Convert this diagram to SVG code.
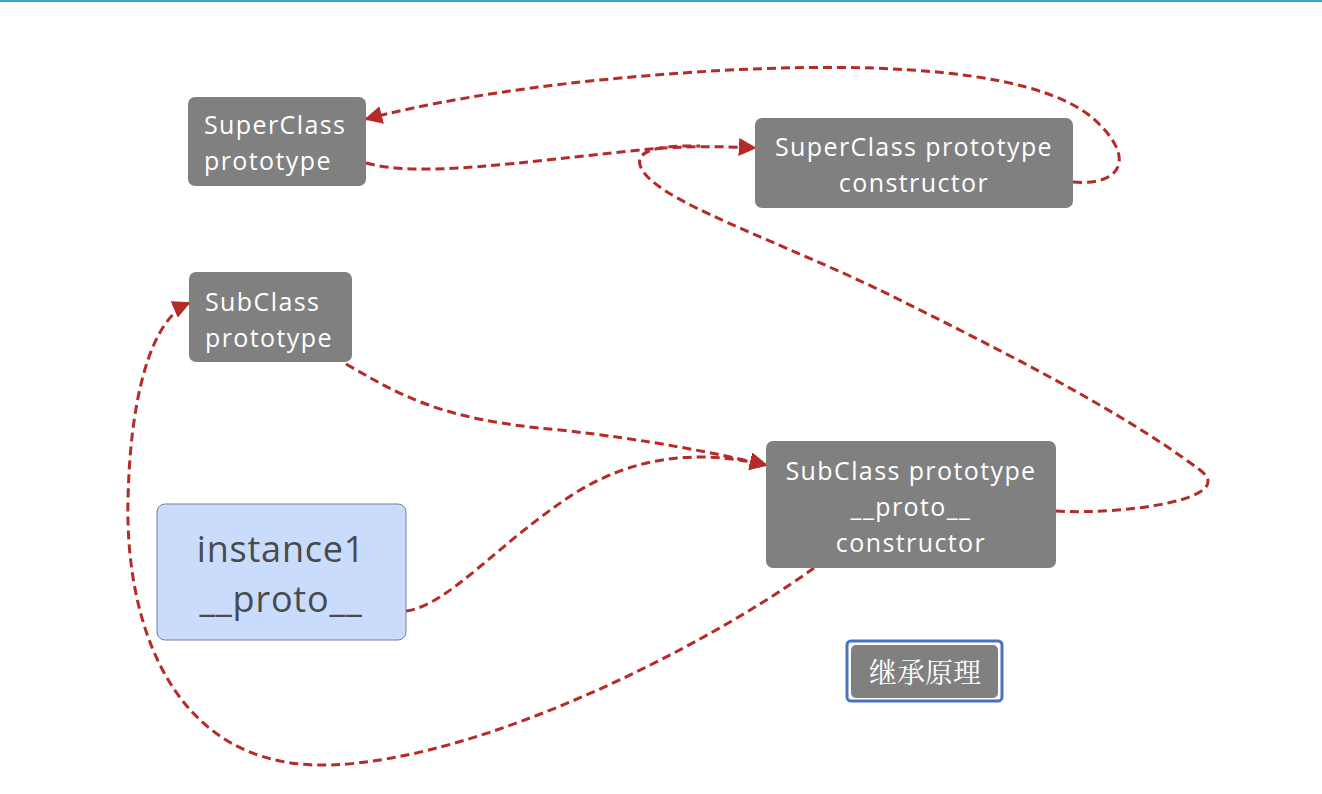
<svg xmlns="http://www.w3.org/2000/svg" width="1322" height="794" viewBox="0 0 1322 794">
<defs>
<style>
.box{fill:#808080;}
.t{font-family:"Open Sans","Noto Sans",sans-serif;font-size:25px;letter-spacing:1.4px;fill:#ffffff;}
.c{text-anchor:middle;}
.link{fill:none;stroke:#b52b27;stroke-width:3;stroke-dasharray:9 5;}
</style>
<marker id="arr" viewBox="0 0 10 10" refX="9" refY="5" markerWidth="6" markerHeight="6" markerUnits="strokeWidth" orient="auto">
<path d="M0,0 L10,5 L0,10 z" fill="#b52b27"/>
</marker>
</defs>
<rect x="0" y="0" width="1322" height="794" fill="#ffffff"/>
<rect x="0" y="0" width="1322" height="2" fill="#3aa3d6"/>

<g id="connectors">
<path class="link" d="M366,163 C420,178 520,162 640,150 C680,146 720,146 755,148" marker-end="url(#arr)"/>
<path class="link" d="M1073,182 C1120,186 1135,160 1100,125 C1040,60 820,58 600,80 C500,90 420,105 366,119" marker-end="url(#arr)"/>
<path class="link" d="M346,364 C400,395 440,420 560,430 C650,440 710,452 766,465" marker-end="url(#arr)"/>
<path class="link" d="M406,611 C450,605 500,540 580,490 C640,455 700,450 766,465" marker-end="url(#arr)"/>
<path class="link" d="M1056,511 C1120,515 1240,500 1200,470 C1120,410 1000,350 900,300 C780,240 650,200 640,165 C636,150 660,145 700,146"/>
<path class="link" d="M814,568 C700,650 480,760 330,765 C170,770 125,620 128,500 C130,400 150,320 189,303" marker-end="url(#arr)"/>
</g>

<g id="node-superclass-prototype">
<rect class="box" x="188" y="97" width="178" height="89" rx="7"/>
<text class="t" x="204" y="134">SuperClass</text>
<text class="t" x="204" y="170">prototype</text>
</g>

<g id="node-superclass-constructor">
<rect class="box" x="755" y="118" width="318" height="90" rx="7"/>
<text class="t c" x="914" y="156">SuperClass prototype</text>
<text class="t c" x="914" y="192">constructor</text>
</g>

<g id="node-subclass-prototype">
<rect class="box" x="189" y="272" width="163" height="90" rx="7"/>
<text class="t" x="205" y="311">SubClass</text>
<text class="t" x="205" y="347">prototype</text>
</g>

<g id="node-instance1">
<rect x="157" y="504" width="249" height="136" rx="8" fill="#c9dcfc" stroke="#6f7fa6" stroke-width="1"/>
<text x="281" y="562" text-anchor="middle" font-family="'Open Sans','Noto Sans',sans-serif" font-size="36" letter-spacing="0.8" fill="#4a4a4a">instance1</text>
<text x="281" y="612" text-anchor="middle" font-family="'Open Sans','Noto Sans',sans-serif" font-size="36" letter-spacing="0.8" fill="#4a4a4a">__proto__</text>
</g>

<g id="node-subclass-constructor">
<rect class="box" x="766" y="441" width="290" height="127" rx="7"/>
<text class="t c" x="911" y="480">SubClass prototype</text>
<text class="t c" x="911" y="516">__proto__</text>
<text class="t c" x="911" y="552">constructor</text>
</g>

<g id="node-title">
<rect x="847" y="641" width="155" height="60" rx="4" fill="#ffffff" stroke="#4a72c4" stroke-width="3"/>
<rect x="851" y="645" width="147" height="53" rx="5" fill="#808080"/>
<text x="925" y="683" text-anchor="middle" font-family="'Noto Serif CJK SC','Noto Sans CJK SC',serif" font-size="28" fill="#ffffff">继承原理</text>
</g>
</svg>
